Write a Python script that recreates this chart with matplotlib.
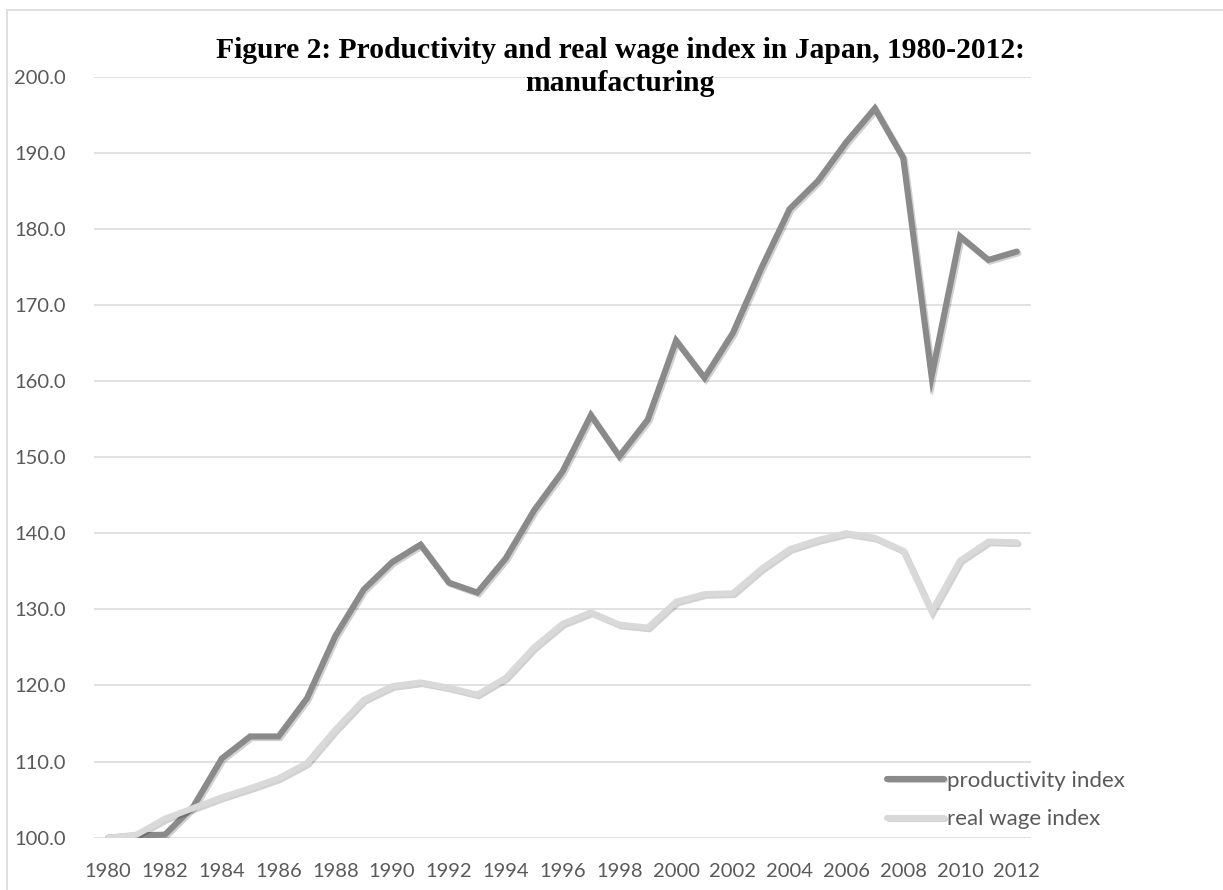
import numpy as np
import matplotlib
matplotlib.use("Agg")
import matplotlib.pyplot as plt
import matplotlib.patheffects as pe
from matplotlib.patches import Rectangle

# index values, 1980 = 100
years = list(range(1980, 2013))
productivity = [100.0, 100.3, 100.4, 104.1, 110.4, 113.3, 113.3, 118.3, 126.5, 132.6,
                136.2, 138.5, 133.5, 132.2, 136.7, 143.0, 148.1, 155.5, 150.1, 154.9,
                165.3, 160.4, 166.3, 174.8, 182.6, 186.3, 191.4, 195.8, 189.3, 160.6,
                179.0, 175.9, 177.0]
real_wage = [100.0, 100.4, 102.5, 103.9, 105.3, 106.5, 107.8, 109.8, 114.2, 118.1,
             119.9, 120.4, 119.7, 118.8, 121.0, 125.0, 128.1, 129.6, 128.0, 127.6,
             131.0, 132.0, 132.1, 135.3, 137.9, 139.1, 140.0, 139.4, 137.7, 129.7,
             136.4, 138.9, 138.8]
y_ticks = [100, 110, 120, 130, 140, 150, 160, 170, 180, 190, 200]

title_lines = ["Figure 2: Productivity and real wage index in Japan, 1980-2012:",
               "manufacturing"]

plt.rcParams['font.family'] = ['Lato', 'DejaVu Sans']

W, H = 1223, 890
fig = plt.figure(figsize=(W / 100, H / 100), dpi=100)
ax = fig.add_axes([94 / W, 1 - 837.7 / H, (1031 - 94) / W, (837.7 - 76.5) / H])

# chart border
fig.patches.append(Rectangle((7 / W, -0.1), 1.2, 1 - 10 / H + 0.1, transform=fig.transFigure,
                             fill=False, edgecolor='#d9d9d9', linewidth=1.2))

x = np.arange(len(years))
shadow = [pe.SimpleLineShadow(offset=(1.2, -1.2), alpha=0.18, shadow_color='black'), pe.Normal()]
ax.plot(x, productivity, color='#8a8a8a', lw=4.4, solid_joinstyle='miter',
        solid_capstyle='round', label='productivity index', path_effects=shadow, zorder=3)
ax.plot(x, real_wage, color='#d9d9d9', lw=4.4, solid_joinstyle='miter',
        solid_capstyle='round', label='real wage index', path_effects=shadow, zorder=3)

ax.set_xlim(-0.5, len(years) - 0.5)
ax.set_ylim(100, 200)
ax.set_yticks(y_ticks)
ax.set_yticklabels([f"{v:.1f}" for v in y_ticks])
ax.set_xticks(x[::2])
ax.set_xticklabels([str(y) for y in years[::2]])
ax.tick_params(axis='both', length=0, labelsize=14.5, labelcolor='#595959')
ax.tick_params(axis='y', pad=20)
ax.tick_params(axis='x', pad=18)
ax.grid(axis='y', color='#d9d9d9', lw=1.1)
ax.set_axisbelow(True)
for s in ax.spines.values():
    s.set_visible(False)

# two-line bold serif title
for line, base in zip(title_lines, [58, 90.7]):
    fig.text(620 / W, 1 - base / H, line, ha='center', va='baseline', fontsize=21.3,
             fontweight='bold', family='Liberation Serif')

leg = fig.legend(loc='center left', bbox_to_anchor=(887 / W, 1 - 800 / H), frameon=False,
                 fontsize=16, handlelength=2.55, handletextpad=0.13, labelspacing=0.85,
                 borderpad=0, borderaxespad=0)
for t in leg.get_texts():
    t.set_color('#595959')

fig.savefig("out.png", dpi=100)
